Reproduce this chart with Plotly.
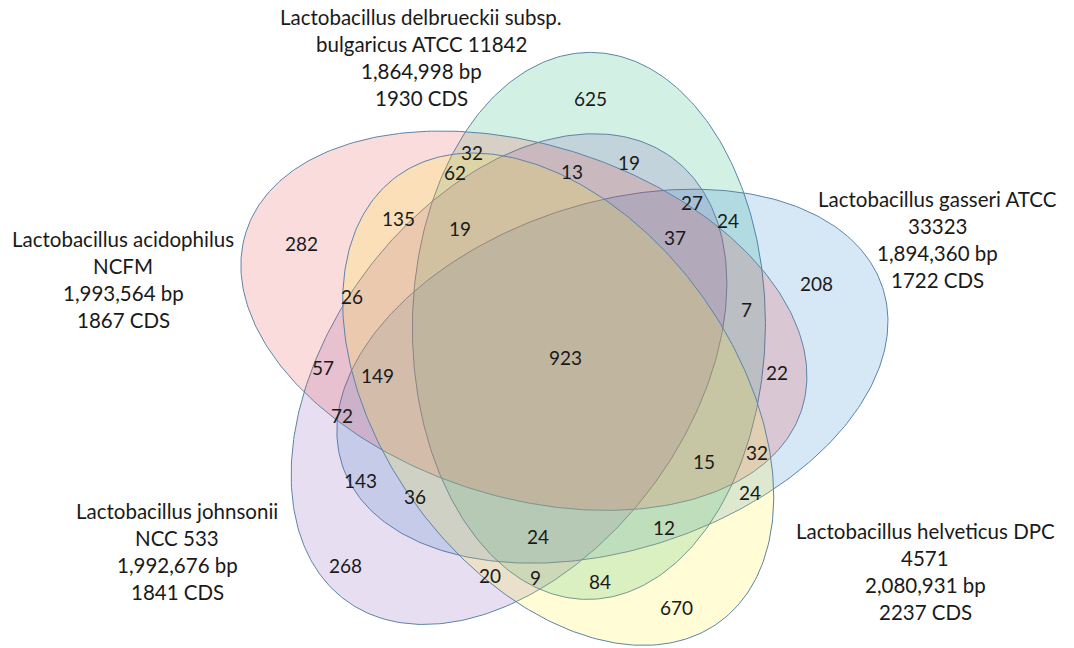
import numpy as np
import plotly.graph_objects as go

# ---------------- data ----------------
set_names = ["Lactobacillus delbrueckii subsp.<br>bulgaricus ATCC 11842",
             "Lactobacillus gasseri ATCC<br>33323",
             "Lactobacillus johnsonii<br>NCC 533",
             "Lactobacillus acidophilus<br>NCFM",
             "Lactobacillus helveticus DPC<br>4571"]
genome_bp = ["1,864,998", "1,894,360", "1,992,676", "1,993,564", "2,080,931"]
cds_count = [1930, 1722, 1841, 1867, 2237]

region_counts = [625, 19, 13, 32, 62, 135, 19, 27, 24, 37, 282, 26, 7, 208, 923,
                 57, 149, 22, 72, 143, 36, 15, 32, 24, 12, 268, 24, 20, 9, 84, 670]

# ---------------- layout (pixel geometry) ----------------
# ellipses: centre x, centre y, semi-major, semi-minor, angle (deg, screen coords)
ellipse_geom = [
    (588.9, 325.9, 273.5, 176.5, -89.5),   # delbrueckii (green)
    (612.4, 376.2, 284.4, 173.2, 161.8),   # gasseri (blue)
    (509.0, 379.1, 275.0, 179.0, -53.5),   # johnsonii (violet)
    (523.9, 320.7, 291.7, 176.0, -162.3),  # acidophilus (pink)
    (558.2, 399.2, 275.1, 177.1, -125.7),  # helveticus (yellow)
]
ellipse_fill = ["rgba(5,180,105,0.18)", "rgba(30,120,205,0.18)", "rgba(120,80,180,0.18)",
                "rgba(235,60,60,0.18)", "rgba(255,240,30,0.18)"]
outline = "rgb(92,132,168)"

label_pos = [(421, 17), (937, 199), (177, 511), (123, 239), (925, 531)]
line_gap = 27

region_pos = [(590, 98), (629, 162), (572, 171), (472, 152), (455, 172), (398, 218), (460, 228),
              (692, 202), (728, 220), (675, 237), (301, 243), (352, 296), (746, 309), (816, 283),
              (565, 357), (323, 367), (377, 375), (777, 372), (342, 415), (360, 480), (415, 496),
              (704, 461), (757, 452), (750, 492), (664, 527), (345, 565), (538, 536), (490, 575),
              (535, 577), (600, 581), (676, 607)]

FONT = "Lato, Calibri, Carlito, 'Open Sans', sans-serif"

fig = go.Figure()
t = np.linspace(0, 2 * np.pi, 361)
for (cx, cy, a, b, ang), fc in zip(ellipse_geom, ellipse_fill):
    th = np.radians(ang)
    xs = cx + a * np.cos(th) * np.cos(t) - b * np.sin(th) * np.sin(t)
    ys = cy + a * np.sin(th) * np.cos(t) + b * np.cos(th) * np.sin(t)
    fig.add_trace(go.Scatter(x=xs, y=ys, mode="lines", fill="toself", fillcolor=fc,
                             line=dict(color=outline, width=1), hoverinfo="skip"))

for v, (x, y) in zip(region_counts, region_pos):
    fig.add_annotation(x=x, y=y, text=str(v), showarrow=False,
                       font=dict(family=FONT, size=19, color="#1a1a1a"))

for name, bp, cds, (x, y) in zip(set_names, genome_bp, cds_count, label_pos):
    lines = name.split("<br>") + [f"{bp} bp", f"{cds} CDS"]
    for i, ln in enumerate(lines):
        fig.add_annotation(x=x, y=y + i * line_gap, text=ln, showarrow=False,
                           font=dict(family=FONT, size=20.5, color="#1a1a1a"))

fig.update_layout(width=1074, height=648, margin=dict(l=0, r=0, t=0, b=0), showlegend=False,
                  plot_bgcolor="white", paper_bgcolor="white",
                  xaxis=dict(range=[0, 1074], visible=False, fixedrange=True),
                  yaxis=dict(range=[648, 0], visible=False, fixedrange=True))
fig.write_html("out.html", config={"displayModeBar": False},
               post_script="document.body.style.margin='0';")
